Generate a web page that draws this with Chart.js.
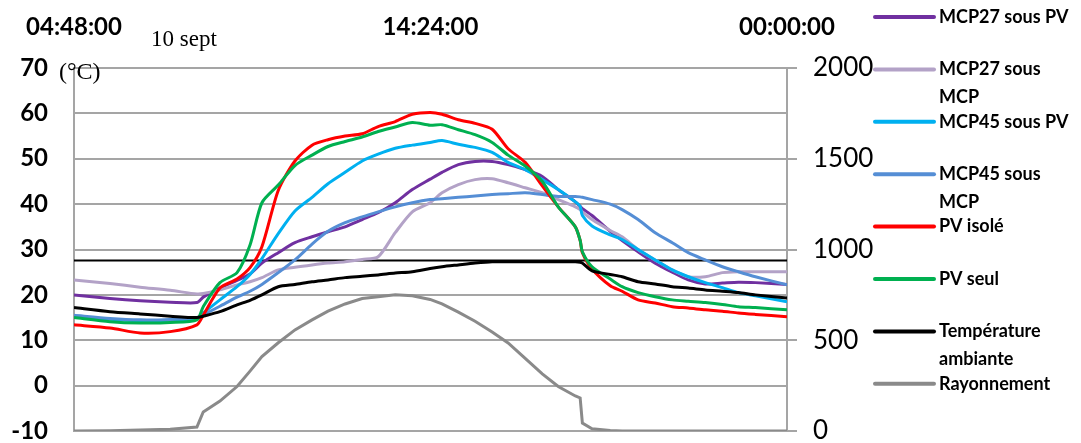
<!DOCTYPE html>
<html>
<head>
<meta charset="utf-8">
<script src="https://cdn.jsdelivr.net/npm/chart.js@4.4.1/dist/chart.umd.min.js"></script>
<style>
    html, body { margin: 0; padding: 0; background: #fff; }
    #wrap { position: relative; width: 1081px; height: 443px; }
</style>
</head>
<body>
<div id="wrap"><canvas id="chart"></canvas></div>
<script>
// time of day in hours (04:48 -> 24:00)
const hours = [4.80, 5.77, 6.58, 7.39, 8.11, 8.28, 8.73, 9.19, 9.54, 9.86, 10.30, 10.75, 11.21, 11.64, 12.10,
    12.56, 12.99, 13.45, 13.91, 14.39, 14.71, 15.15, 15.60, 16.06, 16.49, 16.95, 17.41, 17.84, 18.30, 18.43,
    18.49, 18.75, 19.24, 19.56, 19.99, 20.45, 20.91, 21.34, 21.80, 22.26, 22.69, 23.15, 24.00];

const xTickHours = [4.8, 14.4, 24];
const xTickLabels = ['04:48:00', '14:24:00', '00:00:00'];

// temperatures (°C)
const mcp27SousPv = [20.0, 19.2, 18.7, 18.4, 18.3, 19.5, 21.5, 23.2, 24.6, 27.0, 29.3, 31.5, 32.8, 33.9, 35.0,
    36.6, 38.1, 40.3, 43.2, 45.5, 47.0, 48.7, 49.4, 49.4, 48.7, 47.6, 46.1, 43.2, 40.5, 39.5,
    39.0, 37.5, 34.0, 32.0, 29.5, 27.0, 25.0, 23.3, 22.4, 22.6, 22.8, 22.7, 22.3];
const mcp27SousMcp = [23.3, 22.5, 21.7, 21.0, 20.2, 20.3, 21.1, 22.2, 22.9, 23.8, 25.5, 26.1, 26.6, 27.0, 27.3,
    27.8, 28.4, 33.7, 38.3, 40.3, 42.5, 44.3, 45.4, 45.6, 44.7, 43.6, 42.5, 41.0, 39.4, 38.8,
    38.3, 36.6, 34.2, 32.8, 30.0, 27.7, 25.5, 24.0, 24.0, 24.9, 25.1, 25.1, 25.1];
const mcp45SousPv = [15.3, 14.6, 14.3, 14.4, 14.8, 16.0, 18.9, 21.8, 24.5, 28.0, 33.5, 38.5, 41.5, 44.5, 47.0,
    49.5, 51.0, 52.3, 53.0, 53.6, 54.0, 53.2, 52.5, 51.4, 49.2, 47.6, 45.4, 43.2, 40.5, 39.5,
    37.5, 35.2, 33.2, 32.2, 30.0, 27.7, 25.5, 24.0, 22.7, 21.6, 20.5, 19.8, 18.5];
const mcp45SousMcp = [15.5, 14.8, 14.5, 14.6, 15.0, 15.6, 17.5, 19.5, 20.8, 22.3, 24.9, 27.7, 31.2, 34.0, 35.9,
    37.2, 38.3, 39.4, 40.3, 41.0, 41.2, 41.5, 41.8, 42.1, 42.3, 42.5, 42.1, 41.7, 41.7, 41.6,
    41.5, 41.0, 40.0, 38.8, 36.6, 33.7, 31.5, 29.3, 27.7, 26.2, 25.1, 24.0, 22.2];
const pvIsole = [13.4, 12.7, 11.6, 11.9, 13.4, 15.5, 21.5, 23.5, 26.0, 30.6, 43.0, 49.5, 53.0, 54.2, 55.0,
    55.5, 57.1, 58.2, 59.8, 60.2, 59.8, 58.6, 57.8, 56.5, 52.2, 49.2, 44.0, 39.4, 35.0, 32.0,
    29.3, 25.7, 22.0, 20.8, 18.9, 18.2, 17.4, 17.1, 16.7, 16.4, 16.0, 15.7, 15.2];
const pvSeul = [15.0, 14.1, 13.8, 13.9, 14.5, 17.4, 22.7, 24.9, 31.0, 40.3, 44.2, 48.5, 50.8, 52.7, 53.8,
    54.8, 56.0, 57.0, 58.0, 57.4, 57.5, 56.4, 55.3, 53.6, 50.8, 48.4, 45.0, 39.4, 35.0, 32.0,
    29.5, 26.2, 23.5, 21.8, 20.5, 19.6, 18.9, 18.6, 18.3, 17.9, 17.4, 17.2, 16.7];
const tempAmbiante = [17.2, 16.3, 15.8, 15.3, 15.0, 15.3, 16.3, 17.8, 18.8, 20.0, 21.8, 22.3, 22.9, 23.3, 23.8,
    24.1, 24.4, 24.8, 25.1, 25.8, 26.2, 26.6, 27.0, 27.3, 27.3, 27.3, 27.3, 27.3, 27.3, 27.2,
    27.0, 25.3, 24.5, 24.0, 22.9, 22.4, 21.8, 21.5, 21.1, 20.8, 20.5, 20.0, 19.3];
// solar radiation (W/m², right axis)
const rayonnement = [0, 2, 5, 10, 22, 105, 165, 245, 330, 410, 486, 557, 612, 660, 700,
    730, 740, 750, 745, 725, 700, 655, 605, 545, 485, 400, 315, 245, 193, 182,
    44, 12, 3, 0, 0, 0, 0, 0, 0, 0, 0, 0, 0];

// horizontal black line across the plot
const refTemp = 27.6;

const seriesLabels = ['MCP27 sous PV', 'MCP27 sous MCP', 'MCP45 sous PV', 'MCP45 sous MCP',
    'PV isolé', 'PV seul', 'Température ambiante', 'Rayonnement'];
const legendLines = [['MCP27 sous PV'], ['MCP27 sous', 'MCP'], ['MCP45 sous PV'], ['MCP45 sous', 'MCP'],
    ['PV isolé'], ['PV seul'], ['Température', 'ambiante'], ['Rayonnement']];
const seriesColors = ['#7030a0', '#b3a2c7', '#00b0f0', '#558ed5', '#ff0000', '#00b050', '#000000', '#8a8a8a'];
const seriesValues = [mcp27SousPv, mcp27SousMcp, mcp45SousPv, mcp45SousMcp, pvIsole, pvSeul, tempAmbiante, rayonnement];

const GRID = '#a5a5a5';

function toPoints(values) {
    return hours.map((h, i) => ({ x: h, y: values[i] }));
}

const datasets = [{
    label: 'ref',
    data: [{ x: hours[0], y: refTemp }, { x: hours[hours.length - 1], y: refTemp }],
    borderColor: '#000',
    borderWidth: 2,
    pointRadius: 0,
    yAxisID: 'y',
    order: 20
}];

seriesValues.forEach((values, i) => {
    const isRad = i === seriesValues.length - 1;
    datasets.push({
        label: seriesLabels[i],
        data: toPoints(values),
        borderColor: seriesColors[i],
        borderWidth: 3,
        pointRadius: 0,
        tension: isRad ? 0 : 0.25,
        yAxisID: isRad ? 'y2' : 'y',
        order: 10 - i
    });
});

// no extra label padding, so the plot keeps its fixed box
function noPad(axis) {
    axis.paddingTop = 0;
    axis.paddingBottom = 0;
    axis.paddingLeft = 0;
    axis.paddingRight = 0;
}

// legend + free text (drawn after the chart)
const extrasPlugin = {
    id: 'extras',
    afterDraw(chart) {
        const ctx = chart.ctx;
        ctx.save();

        ctx.fillStyle = '#000';
        ctx.textBaseline = 'alphabetic';
        ctx.textAlign = 'left';
        ctx.font = '23px "Liberation Serif"';
        ctx.fillText('10 sept', 151, 46);
        ctx.font = '24px "Liberation Serif"';
        ctx.fillText('(°C)', 59, 79);

        ctx.font = 'bold 18px Lato';
        ctx.textBaseline = 'middle';
        legendLines.forEach((lines, i) => {
            const y = 17 + i * 52.4;
            ctx.strokeStyle = seriesColors[i];
            ctx.lineWidth = 4;
            ctx.lineCap = 'round';
            ctx.beginPath();
            ctx.moveTo(875, y);
            ctx.lineTo(934, y);
            ctx.stroke();
            lines.forEach((t, k) => {
                ctx.fillText(t, 939, y + k * 28);
            });
        });
        ctx.restore();
    }
};

Chart.defaults.font.family = 'Lato';

new Chart(document.getElementById('chart'), {
    type: 'line',
    data: { datasets: datasets },
    options: {
        responsive: true,
        maintainAspectRatio: false,
        animation: false,
        layout: { padding: { top: 0, bottom: 12, left: 0, right: 0 } },
        plugins: {
            legend: { display: false },
            tooltip: { enabled: false }
        },
        scales: {
            x: {
                type: 'linear',
                position: 'top',
                min: 4.8,
                max: 24,
                afterBuildTicks: axis => { axis.ticks = xTickHours.map(v => ({ value: v })); },
                afterFit: axis => { axis.height = 68; noPad(axis); },
                grid: { display: false },
                border: { display: false },
                ticks: {
                    autoSkip: false,
                    maxRotation: 0,
                    color: '#000',
                    padding: 18,
                    font: { size: 24, weight: 'bold' },
                    callback: (v, i) => xTickLabels[i]
                }
            },
            y: {
                position: 'left',
                min: -10,
                max: 70,
                afterFit: axis => { axis.width = 74; noPad(axis); },
                grid: { color: GRID, lineWidth: 2, drawTicks: false },
                border: { color: GRID, width: 2 },
                ticks: { stepSize: 10, color: '#000', padding: 26, font: { size: 24, weight: 'bold' } }
            },
            y2: {
                position: 'right',
                min: 0,
                max: 2000,
                afterFit: axis => { axis.width = 1081 - 787; noPad(axis); },
                grid: { drawOnChartArea: false, color: GRID, lineWidth: 2, tickLength: 10 },
                border: { color: GRID, width: 2 },
                ticks: {
                    stepSize: 500,
                    color: '#000',
                    padding: 16,
                    font: { size: 26 },
                    callback: v => String(v)
                }
            }
        }
    },
    plugins: [extrasPlugin]
});
</script>
</body>
</html>
